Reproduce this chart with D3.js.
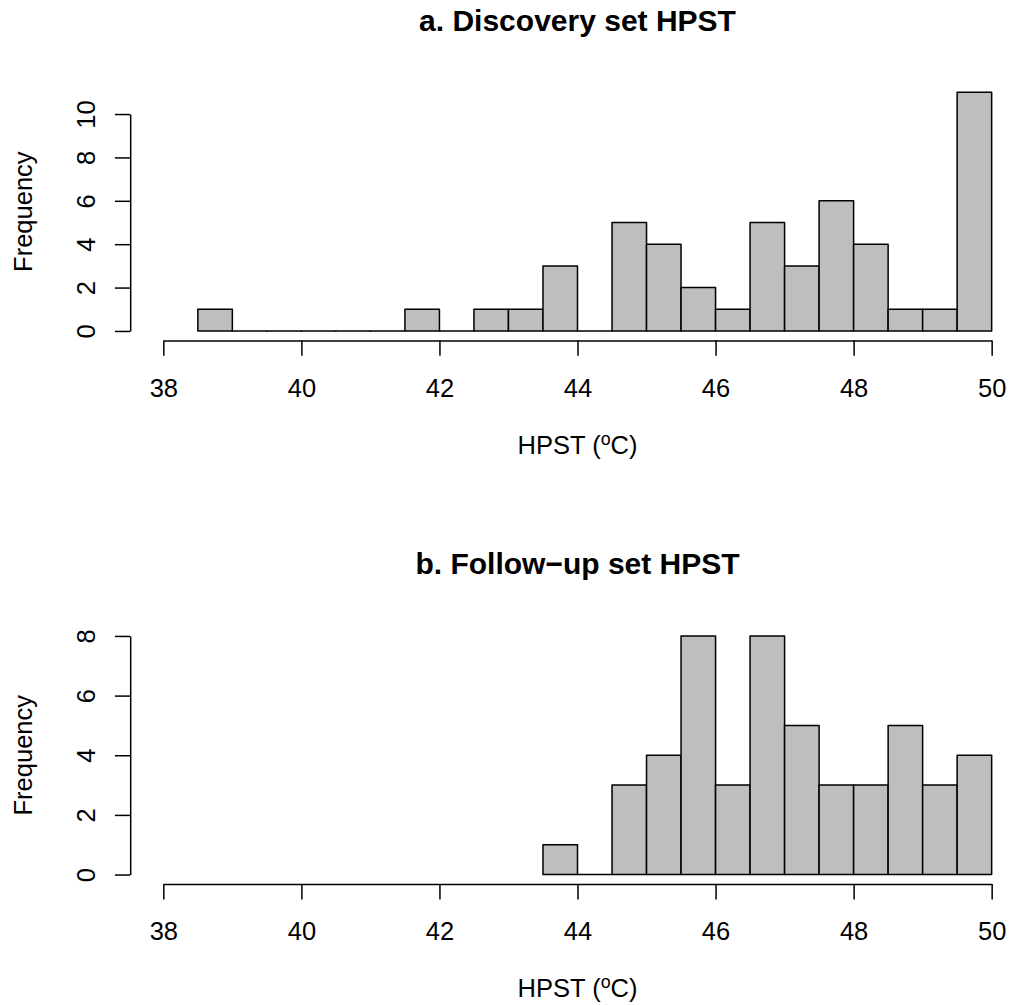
<!DOCTYPE html>
<html>
<head>
<meta charset="utf-8">
<script src="https://cdn.jsdelivr.net/npm/d3@7"></script>
<style>
  html, body { margin: 0; padding: 0; background: #ffffff; }
  svg { display: block; }
  text { font-family: "Liberation Sans", Arial, Helvetica, sans-serif; fill: #000; }
</style>
</head>
<body>
<script>
// ---- Data ----
const titleA = "a. Discovery set HPST";
const titleB = "b. Follow\u2212up set HPST";
const yLabel = "Frequency";

// bin lower edges (width 0.5)
const binStartsA = [38.5, 39, 39.5, 40, 40.5, 41, 41.5, 42, 42.5, 43, 43.5, 44, 44.5, 45, 45.5, 46, 46.5, 47, 47.5, 48, 48.5, 49, 49.5];
const countsA    = [1,    0,  0,    0,  0,    0,  1,    0,  1,    1,  3,    0,  5,    4,  2,    1,  5,    3,  6,    4,  1,    1,  11];

const binStartsB = [43.5, 44, 44.5, 45, 45.5, 46, 46.5, 47, 47.5, 48, 48.5, 49, 49.5];
const countsB    = [1,    0,  3,    4,  8,    3,  8,    5,  3,    3,  5,    3,  4];

const binWidth = 0.5;
const xTicks = [38, 40, 42, 44, 46, 48, 50];
const yTicksA = [0, 2, 4, 6, 8, 10];
const yTicksB = [0, 2, 4, 6, 8];
const xLimits = [38, 50];

// ---- Layout ----
const W = 1011, H = 1005;
const plotLeft = 130.2, plotRight = 1024.8;
const panels = [
  { title: titleA, starts: binStartsA, counts: countsA, yTicks: yTicksA, top: 82.8, bottom: 340.5 },
  { title: titleB, starts: binStartsB, counts: countsB, yTicks: yTicksB, top: 626.4, bottom: 884.1 }
];
const tick = 15.3;
const axisFont = 25.5;
const titleFont = 30;
const lw = 1.5;

const svg = d3.select("body").append("svg").attr("width", W).attr("height", H);

// R-style 4% extended x range
const xr = xLimits[1] - xLimits[0];
const x = d3.scaleLinear()
  .domain([xLimits[0] - 0.04 * xr, xLimits[1] + 0.04 * xr])
  .range([plotLeft, plotRight]);
const cx = (plotLeft + plotRight) / 2;

panels.forEach(p => {
  const ymax = d3.max(p.counts);
  const y = d3.scaleLinear()
    .domain([-0.04 * ymax, 1.04 * ymax])
    .range([p.bottom, p.top]);

  const g = svg.append("g");

  // bars (as closed paths so zero-count bins still show as a line on the baseline)
  const bins = p.starts.map((s, i) => ({ x0: s, x1: s + binWidth, n: p.counts[i] }));
  g.selectAll("path.bar").data(bins).join("path")
    .attr("class", "bar")
    .attr("d", d => {
      const pa = d3.path();
      pa.moveTo(x(d.x0), y(0));
      pa.lineTo(x(d.x1), y(0));
      pa.lineTo(x(d.x1), y(d.n));
      pa.lineTo(x(d.x0), y(d.n));
      pa.closePath();
      return pa.toString();
    })
    .attr("fill", "#bebebe")
    .attr("stroke", "#000")
    .attr("stroke-width", lw)
    .attr("stroke-linejoin", "round");

  // x axis
  const xa = d3.scaleLinear().domain(xLimits).range([x(xLimits[0]), x(xLimits[1])]);
  const gx = g.append("g")
    .attr("transform", `translate(0,${p.bottom})`)
    .call(d3.axisBottom(xa).tickValues(xTicks).tickFormat(d3.format("d"))
      .tickSizeInner(tick).tickSizeOuter(0).tickPadding(0));
  gx.select(".domain").attr("stroke-width", lw);
  gx.selectAll(".tick line").attr("stroke-width", lw);
  gx.selectAll(".tick text")
    .attr("y", 56).attr("dy", null)
    .attr("font-size", axisFont)
    .attr("font-family", "Liberation Sans, Arial, sans-serif")
    .attr("fill", "#000");

  // y axis
  const yt = p.yTicks;
  const ya = d3.scaleLinear().domain([yt[0], yt[yt.length - 1]])
    .range([y(yt[0]), y(yt[yt.length - 1])]);
  const gy = g.append("g")
    .attr("transform", `translate(${plotLeft},0)`)
    .call(d3.axisLeft(ya).tickValues(yt).tickFormat(d3.format("d"))
      .tickSizeInner(tick).tickSizeOuter(0).tickPadding(0));
  gy.select(".domain").attr("stroke-width", lw);
  gy.selectAll(".tick line").attr("stroke-width", lw);
  gy.selectAll(".tick text")
    .attr("x", null).attr("dy", null)
    .attr("transform", "translate(-35.7,0) rotate(-90)")
    .attr("text-anchor", "middle")
    .attr("font-size", axisFont)
    .attr("font-family", "Liberation Sans, Arial, sans-serif")
    .attr("fill", "#000");

  // title
  g.append("text")
    .attr("x", cx).attr("y", p.top - 52.3)
    .attr("text-anchor", "middle")
    .attr("font-size", titleFont)
    .attr("font-weight", "bold")
    .text(p.title);

  // x label with superscript
  const xl = g.append("text")
    .attr("x", cx).attr("y", p.bottom + 113)
    .attr("text-anchor", "middle")
    .attr("font-size", axisFont);
  xl.append("tspan").text("HPST (");
  xl.append("tspan").attr("font-size", axisFont * 0.7).attr("dy", -9).text("o");
  xl.append("tspan").attr("dy", 9).text("C)");

  // y label
  g.append("text")
    .attr("transform", `translate(31.5,${(p.top + p.bottom) / 2}) rotate(-90)`)
    .attr("text-anchor", "middle")
    .attr("font-size", axisFont)
    .text(yLabel);
});
</script>
</body>
</html>
